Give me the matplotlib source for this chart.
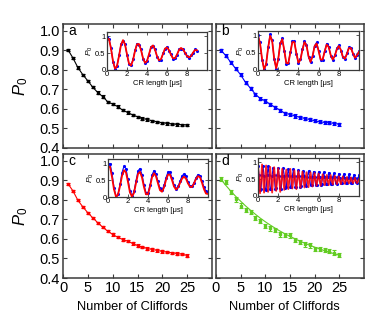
import numpy as np
import matplotlib
matplotlib.use("Agg")
import matplotlib.pyplot as plt

plt.rcParams["font.family"] = ["Liberation Sans", "DejaVu Sans"]
plt.rcParams["mathtext.fontset"] = "custom"
plt.rcParams["mathtext.rm"] = "Liberation Sans"
plt.rcParams["mathtext.it"] = "Liberation Sans:italic"

# --- main panels: P0 vs number of Cliffords ---
cliffords = list(range(1, 26))

p0_a = [0.903, 0.861, 0.812, 0.775, 0.744, 0.711, 0.684, 0.663, 0.637, 0.625,
        0.612, 0.594, 0.582, 0.570, 0.560, 0.551, 0.546, 0.539, 0.534, 0.529,
        0.526, 0.523, 0.521, 0.519, 0.518]
p0_b = [0.900, 0.873, 0.838, 0.806, 0.775, 0.735, 0.706, 0.675, 0.653, 0.641,
        0.624, 0.608, 0.594, 0.577, 0.572, 0.564, 0.557, 0.551, 0.546, 0.539,
        0.534, 0.531, 0.529, 0.526, 0.521]
p0_c = [0.883, 0.846, 0.798, 0.764, 0.734, 0.708, 0.683, 0.660, 0.640, 0.623,
        0.609, 0.597, 0.589, 0.577, 0.566, 0.558, 0.551, 0.546, 0.541, 0.536,
        0.532, 0.529, 0.525, 0.522, 0.515]
p0_d = [0.908, 0.890, 0.841, 0.802, 0.771, 0.747, 0.739, 0.708, 0.691, 0.666,
        0.654, 0.645, 0.623, 0.621, 0.618, 0.593, 0.584, 0.572, 0.567, 0.550,
        0.547, 0.543, 0.540, 0.530, 0.518]
fit_d = [0.905, 0.874, 0.845, 0.818, 0.793, 0.769, 0.747, 0.726, 0.706, 0.688,
         0.671, 0.655, 0.640, 0.626, 0.613, 0.601, 0.589, 0.578, 0.568, 0.558,
         0.549, 0.540, 0.532, 0.524, 0.517]
err_main = {"a": 0.006, "b": 0.008, "c": 0.006, "d": 0.011}

# --- insets: P0 vs CR length [us] ---
cr_a = [0.93, 0.91, 0.63, 0.26, 0.04, 0.11, 0.41, 0.74, 0.88, 0.755,
        0.46, 0.19, 0.13, 0.29, 0.56, 0.76, 0.765, 0.59, 0.35, 0.21,
        0.26, 0.465, 0.67, 0.725, 0.60, 0.41, 0.285, 0.32, 0.475, 0.63,
        0.666, 0.585, 0.447, 0.345, 0.345, 0.455, 0.59, 0.65, 0.61, 0.51,
        0.41, 0.37, 0.41, 0.51, 0.59, 0.58]
cr_a_blue = [0.96, 0.92, 0.66, 0.24, 0.03, 0.13, 0.43, 0.76, 0.86, 0.77,
             0.44, 0.17, 0.14, 0.31, 0.58, 0.78, 0.74, 0.61, 0.33, 0.22,
             0.28, 0.45, 0.69, 0.71, 0.62, 0.39, 0.30, 0.30, 0.49, 0.61,
             0.68, 0.57, 0.46, 0.33, 0.36, 0.44, 0.61, 0.63, 0.62, 0.49,
             0.42, 0.36, 0.43, 0.49, 0.61, 0.57]

cr_b = [0.98, 0.77, 0.32, 0.025, 0.155, 0.63, 0.98, 0.84, 0.33, 0.05,
        0.30, 0.75, 0.885, 0.57, 0.20, 0.19, 0.495, 0.80, 0.80, 0.48,
        0.21, 0.29, 0.58, 0.80, 0.71, 0.40, 0.23, 0.39, 0.68, 0.76,
        0.55, 0.30, 0.30, 0.53, 0.73, 0.66, 0.43, 0.30, 0.40, 0.59,
        0.69, 0.58, 0.38, 0.32, 0.46, 0.63, 0.63, 0.48, 0.35, 0.42, 0.52]
cr_b_blue = [1.00, 0.79, 0.30, 0.02, 0.17, 0.65, 1.02, 0.86, 0.31, 0.04,
             0.32, 0.77, 0.91, 0.55, 0.18, 0.21, 0.51, 0.83, 0.82, 0.46,
             0.19, 0.31, 0.60, 0.83, 0.73, 0.38, 0.22, 0.41, 0.70, 0.79,
             0.56, 0.28, 0.29, 0.55, 0.76, 0.67, 0.41, 0.29, 0.42, 0.62,
             0.71, 0.56, 0.36, 0.31, 0.48, 0.66, 0.64, 0.46, 0.34, 0.44, 0.54]

cr_c = [0.88, 0.89, 0.59, 0.225, 0.01, 0.067, 0.32, 0.62, 0.79, 0.72,
        0.44, 0.13, 0.01, 0.12, 0.41, 0.68, 0.74, 0.575, 0.29, 0.08,
        0.08, 0.30, 0.58, 0.70, 0.61, 0.40, 0.20, 0.155, 0.28, 0.50,
        0.66, 0.66, 0.50, 0.31, 0.22, 0.275, 0.41, 0.54, 0.60, 0.54,
        0.40, 0.30, 0.295, 0.40, 0.535, 0.615, 0.58, 0.42, 0.23, 0.10, 0.09]
cr_c_blue = [0.97, 0.98, 0.71, 0.28, 0.01, 0.08, 0.37, 0.72, 0.91, 0.835,
             0.52, 0.18, 0.03, 0.165, 0.48, 0.77, 0.84, 0.66, 0.36, 0.13,
             0.13, 0.36, 0.65, 0.78, 0.68, 0.46, 0.255, 0.21, 0.34, 0.57,
             0.74, 0.735, 0.56, 0.35, 0.25, 0.31, 0.465, 0.62, 0.68, 0.61,
             0.45, 0.32, 0.315, 0.42, 0.57, 0.66, 0.62, 0.47, 0.29, 0.17, 0.16]

cr_d = [0.92, 0.55, 0.08, 0.45, 0.93, 0.52, 0.10, 0.50, 0.90, 0.50,
        0.12, 0.46, 0.86, 0.50, 0.10, 0.48, 0.85, 0.47, 0.15, 0.45,
        0.82, 0.50, 0.12, 0.44, 0.80, 0.48, 0.18, 0.50, 0.78, 0.46,
        0.20, 0.48, 0.80, 0.50, 0.22, 0.47, 0.76, 0.45, 0.20, 0.50,
        0.74, 0.48, 0.24, 0.46, 0.72, 0.50, 0.25, 0.47, 0.70, 0.45,
        0.26, 0.48, 0.70, 0.50, 0.28, 0.46, 0.68, 0.47, 0.30, 0.48,
        0.66, 0.46, 0.30, 0.47, 0.64, 0.48, 0.32, 0.45, 0.62, 0.46,
        0.32, 0.47, 0.62, 0.45, 0.34, 0.46, 0.60, 0.47, 0.35, 0.44,
        0.58, 0.45, 0.35, 0.46, 0.58, 0.44, 0.36, 0.45, 0.56, 0.46,
        0.37, 0.44, 0.55, 0.45, 0.38, 0.44, 0.54, 0.44, 0.38, 0.43, 0.50]
cr_d_blue = [0.88, 0.62, 0.19, 0.21, 0.63, 0.87, 0.60, 0.20, 0.18, 0.61,
             0.88, 0.61, 0.22, 0.21, 0.60, 0.84, 0.62, 0.22, 0.23, 0.61,
             0.83, 0.60, 0.24, 0.22, 0.60, 0.82, 0.60, 0.25, 0.26, 0.61,
             0.80, 0.59, 0.27, 0.26, 0.58, 0.79, 0.59, 0.27, 0.28, 0.59,
             0.77, 0.58, 0.28, 0.29, 0.58, 0.75, 0.58, 0.31, 0.30, 0.57,
             0.74, 0.57, 0.31, 0.32, 0.57, 0.72, 0.57, 0.33, 0.32, 0.57,
             0.71, 0.56, 0.33, 0.34, 0.56, 0.70, 0.56, 0.35, 0.34, 0.56,
             0.69, 0.55, 0.35, 0.36, 0.55, 0.67, 0.55, 0.37, 0.36, 0.55,
             0.66, 0.54, 0.38, 0.37, 0.55, 0.65, 0.54, 0.38, 0.39, 0.54,
             0.64, 0.54, 0.39, 0.39, 0.53, 0.63, 0.53, 0.40, 0.39, 0.53, 0.62]

t_a = np.round(np.arange(len(cr_a)) * 0.2, 2)
t_b = np.round(np.arange(len(cr_b)) * 0.2, 2)
t_c = np.round(np.arange(len(cr_c)) * 0.2, 2)
t_d = np.round(np.arange(len(cr_d)) * 0.1, 2)

spine_col = "#3a3a3a"
green = "#62cc22"

W, H = 390, 329
fig = plt.figure(figsize=(W / 100, H / 100), dpi=100)


def box(x0, y0, x1, y1):
    # pixel box (top-left origin) -> figure fraction rect
    return [x0 / W, 1 - y1 / H, (x1 - x0) / W, (y1 - y0) / H]


main_boxes = {
    "a": box(63, 24, 212, 148),
    "b": box(216, 24, 364, 148),
    "c": box(63, 154, 212, 278),
    "d": box(216, 154, 364, 278),
}
inset_boxes = {
    "a": box(107, 32, 207, 70),
    "b": box(258, 31, 359, 70),
    "c": box(108, 159, 208, 197),
    "d": box(258, 158, 359, 196),
}
colors = {"a": "black", "b": "#0000ff", "c": "#ff0000", "d": green}
series = {"a": p0_a, "b": p0_b, "c": p0_c, "d": p0_d}
insets = {
    "a": (t_a, cr_a_blue, cr_a),
    "b": (t_b, cr_b_blue, cr_b),
    "c": (t_c, cr_c_blue, cr_c),
    "d": (t_d, cr_d_blue, cr_d),
}

for key in "abcd":
    ax = fig.add_axes(main_boxes[key])
    col = colors[key]
    ax.errorbar(cliffords, series[key], yerr=err_main[key], fmt="s", ms=2,
                color=col, ecolor=col, elinewidth=0.8, capsize=1.5, capthick=0.8)
    if key == "d":
        ax.plot(cliffords, fit_d, "-", color=col, lw=0.8)
    else:
        ax.plot(cliffords, series[key], "-", color=col, lw=0.8)
    ax.set_xlim(0, 30)
    ax.set_ylim(0.4, 1.035)
    ax.set_xticks([0, 5, 10, 15, 20, 25])
    ax.set_yticks([0.4, 0.5, 0.6, 0.7, 0.8, 0.9, 1.0])
    ax.tick_params(direction="in", top=True, right=True, length=3, width=0.8,
                   labelsize=10.5, pad=2, color=spine_col)
    if key in "ab":
        ax.tick_params(labelbottom=False)
    if key in "bd":
        ax.tick_params(labelleft=False)
    for sp in ax.spines.values():
        sp.set_color(spine_col)
        sp.set_linewidth(1.1)
    ax.text(0.035, 0.94, key, transform=ax.transAxes, fontsize=10,
            ha="left", va="center")

    # inset
    t, blue, red = insets[key]
    ins = fig.add_axes(inset_boxes[key])
    ins.plot(t, blue, "-", color="#0000ff", lw=0.8, marker=".", ms=2.5)
    red_alpha = 0.85 if key == "d" else 1.0
    ins.plot(t, red, "-", color="#ff0000", lw=1.3, alpha=red_alpha)
    ins.set_xlim(0, 10)
    ins.set_ylim(0, 1.12)
    ins.set_xticks([0, 2, 4, 6, 8])
    ins.set_yticks([0, 0.5, 1])
    ins.set_yticklabels(["0", "0.5", "1"])
    ins.tick_params(direction="in", top=True, right=True, length=2, width=0.6,
                    labelsize=5.5, pad=1, color=spine_col)
    for sp in ins.spines.values():
        sp.set_color(spine_col)
        sp.set_linewidth(0.9)
    ins.set_xlabel("CR length [μs]", fontsize=5.5, labelpad=1)
    ins.set_ylabel("$P_0$", fontsize=6, labelpad=0)

fig.text(21 / W, 1 - 86 / H, "$P_0$", rotation=90, fontsize=12,
         ha="center", va="center")
fig.text(21 / W, 1 - 216 / H, "$P_0$", rotation=90, fontsize=12,
         ha="center", va="center")
fig.text(132 / W, 1 - 307 / H, "Number of Cliffords", fontsize=9.3,
         ha="center", va="center")
fig.text(284 / W, 1 - 307 / H, "Number of Cliffords", fontsize=9.3,
         ha="center", va="center")

fig.savefig("out.png", dpi=100)
